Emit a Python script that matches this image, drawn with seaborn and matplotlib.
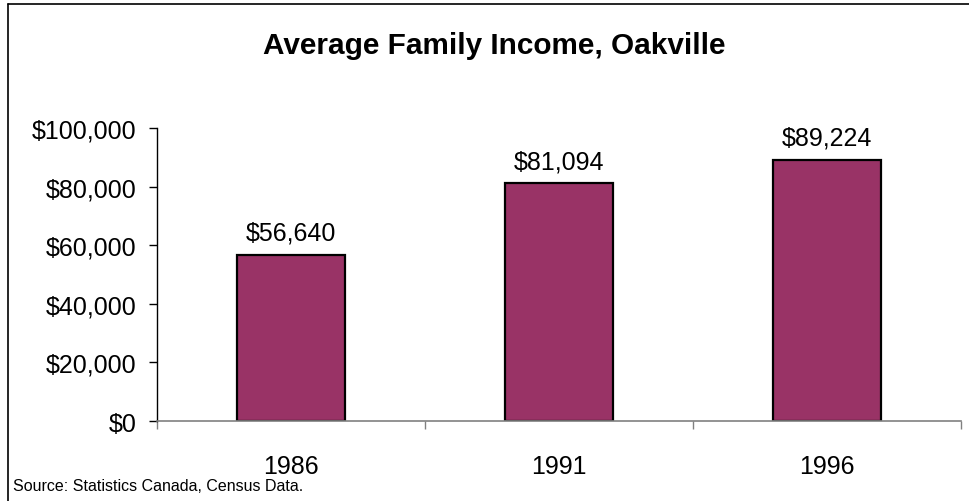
import matplotlib
matplotlib.use("Agg")
import matplotlib.pyplot as plt
from matplotlib.lines import Line2D
from matplotlib.ticker import FuncFormatter, FixedLocator
import seaborn as sns
import pandas as pd

years = ["1986", "1991", "1996"]
income = [56640, 81094, 89224]
yticks = [0, 20000, 40000, 60000, 80000, 100000]

sns.set_theme(style="white")
plt.rcParams["font.family"] = ["Liberation Sans", "DejaVu Sans"]

df = pd.DataFrame({"year": years, "income": income})

fig = plt.figure(figsize=(9.69, 5.02), dpi=100)
ax = fig.add_axes([157 / 969, 1 - 422 / 502, (961 - 157) / 969, (422 - 129) / 502])

sns.barplot(data=df, x="year", y="income", color="#993366", width=0.4,
            saturation=1, edgecolor="black", linewidth=1.6, ax=ax)

ax.set_ylim(0, 100000)
ax.set_xlim(-0.5, 2.5)
ax.set_yticks(yticks)
ax.yaxis.set_major_formatter(FuncFormatter(lambda v, p: f"${v:,.0f}"))
ax.set_xlabel("")
ax.set_ylabel("")

# category boundaries carry the tick marks; labels sit at the bar centres
ax.xaxis.set_minor_locator(FixedLocator([-0.5, 0.5, 1.5, 2.5]))
ax.tick_params(axis="x", which="major", length=0, pad=24, labelsize=18, labelcolor="black")
ax.tick_params(axis="x", which="minor", length=6, width=1, color="#808080", direction="out", bottom=True)
ax.tick_params(axis="y", which="major", length=6, width=1, color="black", direction="out",
               pad=9, labelsize=18, labelcolor="black", left=True)

for s in ["top", "right"]:
    ax.spines[s].set_visible(False)
ax.spines["left"].set_color("black")
ax.spines["left"].set_linewidth(1)
ax.spines["bottom"].set_color("#808080")
ax.spines["bottom"].set_linewidth(1.2)

for i, v in enumerate(income):
    ax.text(i, v + 3500, f"${v:,}", ha="center", va="bottom", fontsize=18, color="black")

fig.text(494 / 969, 1 - 46 / 502, "Average Family Income, Oakville", ha="center", va="center",
         fontsize=21.4, fontweight="bold", color="black")
fig.text(13 / 969, 1 - 487 / 502, "Source: Statistics Canada, Census Data.", ha="left", va="center",
         fontsize=11.5, color="black")

# chart-area frame
fig.add_artist(Line2D([8 / 969, 8 / 969], [1 - 5 / 502, -0.01], transform=fig.transFigure,
                      color="black", linewidth=1.2))
fig.add_artist(Line2D([8 / 969, 1.01], [1 - 5 / 502, 1 - 5 / 502], transform=fig.transFigure,
                      color="black", linewidth=1.2))

fig.savefig("out.png", dpi=100, facecolor="white")
